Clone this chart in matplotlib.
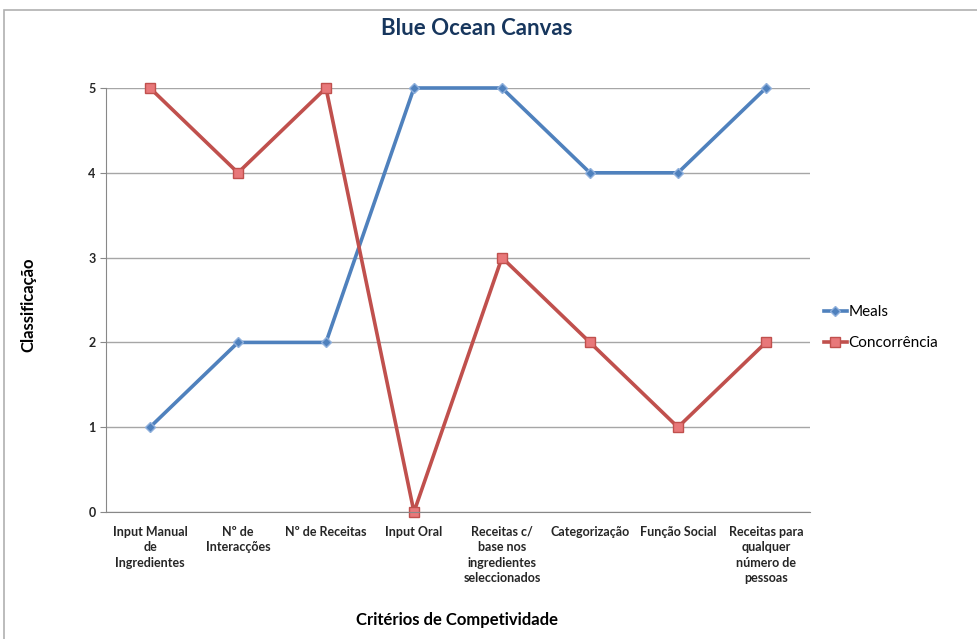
import matplotlib.pyplot as plt
from matplotlib.patches import Rectangle

plt.rcParams['font.family'] = ['Lato', 'DejaVu Sans']

categorias = ['Input Manual\nde\nIngredientes', 'Nº de\nInteracções', 'Nº de Receitas',
              'Input Oral', 'Receitas c/\nbase nos\ningredientes\nseleccionados',
              'Categorização', 'Função Social', 'Receitas para\nqualquer\nnúmero de\npessoas']
meals = [1, 2, 2, 5, 5, 4, 4, 5]
concorrencia = [5, 4, 5, 0, 3, 2, 1, 2]

fig = plt.figure(figsize=(9.77, 6.39), dpi=100)
ax = fig.add_axes([0.1085, 0.1987, 0.7205, 0.6636])

# light frame round the whole picture
fig.patches.append(Rectangle((0.004, -0.01), 1.5, 0.995, transform=fig.transFigure,
                             fill=False, edgecolor='#b0b0b0', linewidth=1.2))

x = range(len(categorias))
ax.plot(x, meals, color='#4f81bd', linewidth=2.6, marker='D', markersize=5,
        markerfacecolor='#4f81bd', markeredgecolor='#8fb0dc', label='Meals', clip_on=False)
ax.plot(x, concorrencia, color='#c0504d', linewidth=2.6, marker='s', markersize=6.5,
        markerfacecolor='#e8787a', markeredgecolor='#c0504d', label='Concorrência', clip_on=False)

ax.set_xlim(-0.5, 7.5)
ax.set_ylim(0, 5)
ax.set_yticks(range(6))
ax.set_xticks(list(x))
ax.set_xticklabels(categorias, fontsize=9, fontweight='bold', color='#262626', linespacing=1.35)
ax.tick_params(axis='y', labelsize=9, length=4, color='#888888', labelcolor='#262626')
ax.tick_params(axis='x', length=0, pad=10)
for lbl in ax.get_yticklabels():
    lbl.set_fontweight('bold')
ax.grid(axis='y', color='#a6a6a6', linewidth=1)
ax.set_axisbelow(True)
for s in ['top', 'right']:
    ax.spines[s].set_visible(False)
ax.spines['left'].set_color('#888888')
ax.spines['bottom'].set_color('#888888')

fig.text(0.488, 0.956, 'Blue Ocean Canvas', fontsize=16, fontweight='bold', color='#17365d',
         ha='center', va='center')
fig.text(0.029, 0.523, 'Classificação', fontsize=12, fontweight='bold', rotation=90,
         ha='center', va='center')
fig.text(0.468, 0.03, 'Critérios de Competividade', fontsize=12, fontweight='bold',
         ha='center', va='center')

ax.legend(loc='center left', bbox_to_anchor=(1.0, 0.435), frameon=False, fontsize=11,
          handlelength=1.5, handletextpad=0.1, labelspacing=1.1)

fig.savefig('out.png', dpi=100)
